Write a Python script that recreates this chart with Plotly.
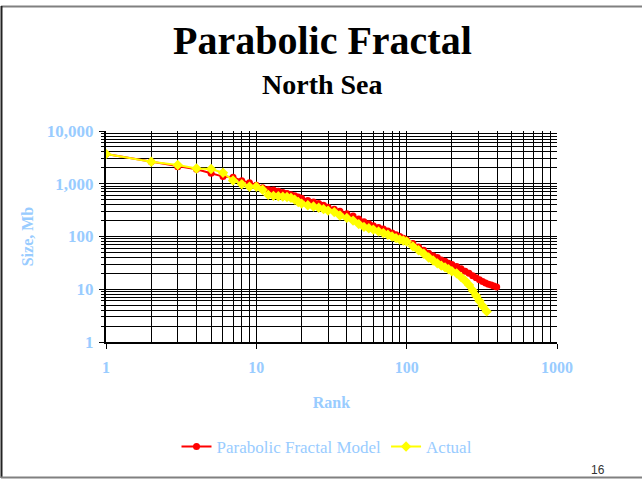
import plotly.graph_objects as go

# ---- data ----
model_rank = [1, 2, 3, 4, 5, 6, 7, 8, 9, 10, 11, 12, 13, 14, 15, 16, 17, 18, 19, 20,
              22, 24, 26, 28, 30, 33, 36, 40, 44, 48, 52, 56, 60, 65, 70, 75, 80, 85, 90, 95,
              100, 110, 120, 130, 140, 150, 160, 170, 180, 190, 200, 215, 230, 245, 260,
              275, 290, 305, 320, 335, 350, 365, 380, 397]
model_size = [3660, 2620, 2110, 1880, 1580, 1365, 1330, 1145, 1050, 935, 840, 780, 760, 720, 680,
              650, 620, 590, 560, 530, 480, 450, 420, 390, 360, 330, 300, 270, 245, 215, 190,
              175, 160, 148, 138, 127, 117, 108, 100, 93, 86, 74, 63, 55, 48, 43, 40, 36, 34,
              31, 29.5, 27, 24.5, 22, 20, 18, 16.5, 15.2, 14, 13.2, 12.5, 12, 11.5, 11]

actual_rank = [1, 2, 3, 4, 5, 6, 7, 8, 9, 10, 11, 12, 13, 14, 15, 16, 17, 18, 19, 20,
               22, 24, 26, 28, 30, 33, 36, 40, 44, 48, 52, 56, 60, 65, 70, 75, 80, 85, 90, 95,
               100, 110, 120, 130, 140, 150, 160, 170, 180, 190, 200, 215, 230, 245, 260,
               275, 290, 305, 320, 341]
actual_size = [3660, 2620, 2270, 1940, 1900, 1620, 1150, 980, 880, 880, 770, 615, 590, 580, 570,
               560, 540, 500, 450, 420, 390, 370, 350, 330, 310, 290, 250, 225, 200, 172, 152,
               143, 135, 125, 116, 108, 100, 93, 88, 84, 80, 65, 55, 47, 40, 35, 31, 28, 26,
               24, 22, 20, 17, 14.5, 12, 9.5, 7.5, 6, 4.8, 3.8]

series_names = ["Parabolic Fractal Model", "Actual"]
title_text = "Parabolic Fractal"
subtitle_text = "North Sea"
x_title = "Rank"
y_title = "Size, Mb"
page_number = "16"

x_minor = [m * 10 ** d for d in range(3) for m in range(2, 10)]
y_minor = [m * 10 ** d for d in range(4) for m in range(2, 10)]

# ---- layout geometry (pixels) ----
W, H = 642, 481
L, R, T, B = 106, 557, 131, 342
PW, PH = R - L, B - T


def px(x):
    return (x - L) / PW


def py(y):
    return (B - y) / PH


LB = "#99CCFF"
SERIF = "Liberation Serif, Times New Roman, serif"

fig = go.Figure()
fig.add_trace(go.Scatter(
    x=model_rank, y=model_size, name=series_names[0], mode="lines+markers",
    line=dict(color="#FF0000", width=2),
    marker=dict(symbol="circle", size=7, color="#FF0000"),
))
fig.add_trace(go.Scatter(
    x=actual_rank, y=actual_size, name=series_names[1], mode="lines+markers",
    line=dict(color="#FFFF00", width=2),
    marker=dict(symbol="diamond", size=8, color="#FFFF00"),
))

axis_font = dict(family=SERIF, size=16, color=LB, weight="bold")

fig.update_xaxes(
    type="log", range=[0, 3], dtick=1, tickformat="d",
    showgrid=True, gridcolor="black", gridwidth=1,
    showline=True, linecolor="black", linewidth=2,
    ticks="outside", ticklen=5, tickcolor="black",
    tickfont=axis_font, ticklabelstandoff=5,
    minor=dict(tickmode="array", tickvals=x_minor, showgrid=True,
               gridcolor="black", gridwidth=1, ticks=""),
    title=dict(text=x_title, font=axis_font, standoff=22),
    zeroline=False,
)
fig.update_yaxes(
    type="log", range=[0, 4], dtick=1, tickformat=",d",
    showgrid=True, gridcolor="black", gridwidth=1,
    showline=True, linecolor="black", linewidth=2,
    ticks="outside", ticklen=5, tickcolor="black",
    tickfont=dict(family=SERIF, size=17, color=LB, weight="bold"), ticklabelstandoff=2,
    minor=dict(tickmode="array", tickvals=y_minor, showgrid=True,
               gridcolor="black", gridwidth=1, ticks="outside", ticklen=3,
               tickcolor="black"),
    title=dict(text=y_title, font=axis_font, standoff=9),
    zeroline=False,
)

annotations = [
    dict(text=f"<b>{title_text}</b>", x=px(322), y=py(40), xref="paper", yref="paper",
         showarrow=False, font=dict(family=SERIF, size=40, color="black"),
         xanchor="center", yanchor="middle"),
    dict(text=f"<b>{subtitle_text}</b>", x=px(322), y=py(84), xref="paper", yref="paper",
         showarrow=False, font=dict(family=SERIF, size=28, color="black"),
         xanchor="center", yanchor="middle"),
    dict(text=page_number, x=px(598), y=py(470), xref="paper", yref="paper",
         showarrow=False, font=dict(family="Liberation Sans, Arial, sans-serif", size=12,
                                    color="#333333"),
         xanchor="center", yanchor="middle"),
]

shapes = [
    dict(type="line", xref="paper", yref="paper", x0=px(1), x1=px(642), y0=py(6.5), y1=py(6.5),
         line=dict(color="#808080", width=2)),
    dict(type="line", xref="paper", yref="paper", x0=px(1.5), x1=px(1.5), y0=py(6), y1=py(478),
         line=dict(color="#222222", width=2)),
    dict(type="line", xref="paper", yref="paper", x0=px(1), x1=px(642), y0=py(477.5), y1=py(477.5),
         line=dict(color="#808080", width=2)),
]

fig.update_layout(
    width=W, height=H,
    margin=dict(l=L, r=W - R, t=T, b=H - B, pad=0),
    paper_bgcolor="white", plot_bgcolor="white",
    showlegend=True,
    legend=dict(orientation="h", x=px(327), y=py(447), xanchor="center", yanchor="middle",
                font=dict(family=SERIF, size=17, color=LB), bgcolor="rgba(0,0,0,0)",
                itemwidth=30),
    annotations=annotations,
    shapes=shapes,
)

fig.write_html(
    "out.html",
    config={"displayModeBar": False},
    post_script="document.body.style.margin='0';document.body.style.overflow='hidden';",
)
